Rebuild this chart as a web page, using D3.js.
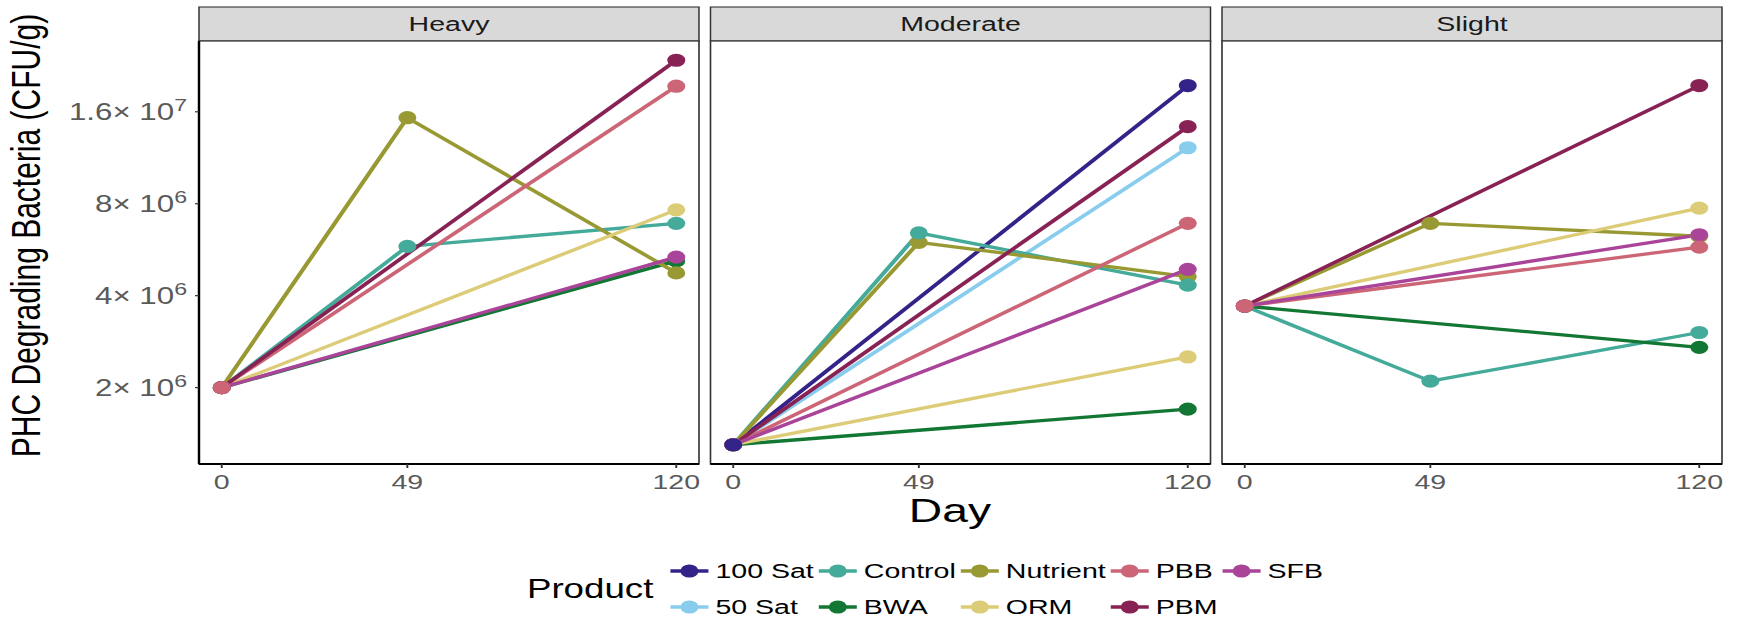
<!DOCTYPE html>
<html>
<head>
<meta charset="utf-8">
<script src="https://cdn.jsdelivr.net/npm/d3@7"></script>
<style>
  html, body { margin: 0; padding: 0; background: #fff; }
  svg { display: block; }
</style>
</head>
<body>
<svg id="chart"></svg>
<script>
// ---- data -------------------------------------------------------------
const days = [0, 49, 120];
const facets = ["Heavy", "Moderate", "Slight"];
const products = ["100 Sat", "50 Sat", "Control", "BWA", "Nutrient", "ORM", "PBB", "PBM", "SFB"];
const productColors = ["#332288", "#88CCEE", "#44AA99", "#117733", "#999933", "#DDCC77", "#CC6677", "#882255", "#AA4499"];
// order in which the points are stacked (last one on top)
const pointOrder = ["50 Sat", "BWA", "Nutrient", "Control", "ORM", "PBM", "SFB", "PBB", "100 Sat"];

// CFU/g per product (same order as `products`), values at day 0 / 49 / 120
const heavyCounts = [
  null,
  null,
  [2.0e6, 5.8e6, 6.9e6],
  [2.0e6, null, 5.2e6],
  [2.0e6, 15.3e6, 4.75e6],
  [2.0e6, null, 7.64e6],
  [2.0e6, null, 19.4e6],
  [2.0e6, null, 23.6e6],
  [2.0e6, null, 5.35e6]
];
const moderateCounts = [
  [1.3e6, null, 19.5e6],
  [1.3e6, null, 12.2e6],
  [1.3e6, 6.42e6, 4.33e6],
  [1.3e6, null, 1.7e6],
  [1.3e6, 5.98e6, 4.62e6],
  [1.3e6, null, 2.52e6],
  [1.3e6, null, 6.9e6],
  [1.3e6, null, 14.3e6],
  [1.3e6, null, 4.88e6]
];
const slightCounts = [
  null,
  null,
  [3.7e6, 2.1e6, 3.03e6],
  [3.7e6, null, 2.71e6],
  [3.7e6, 6.9e6, 6.26e6],
  [3.7e6, null, 7.74e6],
  [3.7e6, null, 5.77e6],
  [3.7e6, null, 19.5e6],
  [3.7e6, null, 6.33e6]
];
const facetCounts = [heavyCounts, moderateCounts, slightCounts];

const yTickValues = [2e6, 4e6, 8e6, 1.6e7];
const yTickMantissas = ["2", "4", "8", "1.6"];
const yTickExponents = ["6", "6", "6", "7"];

// ---- layout -----------------------------------------------------------
const W = 1738, H = 619;
const stretch = 1.36;                 // horizontal aspect of the figure
const VW = W / stretch;
const sx = v => v / stretch;          // screen x -> drawing x

const font = "'Liberation Sans', Arial, Helvetica, sans-serif";
const stripTop = 7, panelTop = 41, panelBottom = 464;
const panelW = sx(500);
const panelLefts = facets.map((f, i) => sx(199 + i * 511.5));

const svg = d3.select("#chart")
  .attr("width", W).attr("height", H)
  .attr("viewBox", `0 0 ${VW} ${H}`)
  .attr("preserveAspectRatio", "none")
  .style("font-family", font);

svg.append("rect").attr("width", VW).attr("height", H).attr("fill", "#fff");

// log y scale shared by all panels, 5% expansion in log space
const allValues = facetCounts.flat(2).filter(v => v != null);
const [vMin, vMax] = d3.extent(allValues);
const lMin = Math.log10(vMin), lMax = Math.log10(vMax);
const lPad = (lMax - lMin) * 0.05;
const y = d3.scaleLog()
  .domain([10 ** (lMin - lPad), 10 ** (lMax + lPad)])
  .range([panelBottom, panelTop]);

const tickGrey = "#5a5a5a";
const tickFs = 21;

facets.forEach((facet, fi) => {
  const left = panelLefts[fi];
  const x = d3.scaleLinear().domain([-6, 126]).range([left, left + panelW]);
  const g = svg.append("g").attr("class", "panel");

  // strip
  g.append("rect")
    .attr("x", left).attr("y", stripTop)
    .attr("width", panelW).attr("height", panelTop - stripTop)
    .attr("fill", "#D9D9D9").attr("stroke", "#333").attr("stroke-width", 1.1);
  g.append("text")
    .attr("x", left + panelW / 2).attr("y", (stripTop + panelTop) / 2 + 7.5)
    .attr("text-anchor", "middle")
    .attr("font-size", tickFs).attr("fill", "#1A1A1A")
    .text(facet);

  // panel background + border
  g.append("rect")
    .attr("x", left).attr("y", panelTop)
    .attr("width", panelW).attr("height", panelBottom - panelTop)
    .attr("fill", "#fff").attr("stroke", "#333").attr("stroke-width", 1.2);

  // x axis line
  g.append("line")
    .attr("x1", left).attr("x2", left + panelW)
    .attr("y1", panelBottom).attr("y2", panelBottom)
    .attr("stroke", "#000").attr("stroke-width", 1.8);

  // x ticks and labels
  days.forEach(d => {
    g.append("line")
      .attr("x1", x(d)).attr("x2", x(d))
      .attr("y1", panelBottom).attr("y2", panelBottom + 4)
      .attr("stroke", "#333").attr("stroke-width", 1.4);
    g.append("text")
      .attr("x", x(d)).attr("y", panelBottom + 25)
      .attr("text-anchor", "middle")
      .attr("font-size", tickFs).attr("fill", tickGrey)
      .text(d);
  });

  // y axis only on the first panel
  if (fi === 0) {
    g.append("line")
      .attr("x1", left).attr("x2", left)
      .attr("y1", panelTop).attr("y2", panelBottom)
      .attr("stroke", "#000").attr("stroke-width", 1.8);
    yTickValues.forEach((v, ti) => {
      g.append("line")
        .attr("x1", left - sx(4)).attr("x2", left)
        .attr("y1", y(v)).attr("y2", y(v))
        .attr("stroke", "#333").attr("stroke-width", 1.2);
      const t = g.append("text")
        .attr("x", left - sx(12)).attr("y", y(v) + 8)
        .attr("text-anchor", "end")
        .attr("font-size", 23).attr("fill", tickGrey);
      t.append("tspan").text(yTickMantissas[ti] + "\u00d7 10");
      t.append("tspan").attr("font-size", 17).attr("dy", -9).text(yTickExponents[ti]);
    });
  }

  // series lines (drawn in product order)
  const line = d3.line().x(p => x(p.day)).y(p => y(p.value));
  const counts = facetCounts[fi];
  const series = products.map((p, pi) => ({
    product: p,
    color: productColors[pi],
    points: counts[pi] ? days.map((d, di) => ({ day: d, value: counts[pi][di] })).filter(q => q.value != null) : []
  })).filter(s => s.points.length);

  g.selectAll("path.series").data(series).join("path")
    .attr("class", "series")
    .attr("d", s => line(s.points))
    .attr("fill", "none")
    .attr("stroke", s => s.color)
    .attr("stroke-width", 3.3)
    .attr("stroke-linejoin", "round");

  // points on top of all lines
  const stacked = series.slice().sort((a, b) => pointOrder.indexOf(a.product) - pointOrder.indexOf(b.product));
  stacked.forEach(s => {
    g.selectAll(null).data(s.points).join("circle")
      .attr("cx", p => x(p.day)).attr("cy", p => y(p.value))
      .attr("r", 6.6).attr("fill", s.color);
  });
});

// axis titles
svg.append("text")
  .attr("transform", `translate(${sx(40)},${(stripTop + panelBottom) / 2}) rotate(-90)`)
  .attr("text-anchor", "middle")
  .attr("font-size", 30).attr("fill", "#000")
  .text("PHC Degrading Bacteria (CFU/g)");

svg.append("text")
  .attr("x", sx(950))
  .attr("y", 522)
  .attr("text-anchor", "middle")
  .attr("font-size", 34).attr("fill", "#000")
  .text("Day");

// legend: two rows, filled column by column
const legend = svg.append("g").attr("class", "legend");
const legendTitle = legend.append("text")
  .attr("x", 0).attr("y", 598)
  .attr("font-size", 27).attr("fill", "#000")
  .text("Product");
const titleW = legendTitle.node().getComputedTextLength();
const rowsY = [571, 607];
const keyW = sx(38), keyGap = sx(7), colGap = sx(5);
const labelFs = 21;
let cx = titleW + sx(17);
const nCols = Math.ceil(products.length / 2);
for (let c = 0; c < nCols; c++) {
  const members = [c * 2, c * 2 + 1].filter(i => i < products.length);
  let maxW = 0;
  members.forEach((pi, r) => {
    const yy = rowsY[r];
    legend.append("line")
      .attr("x1", cx).attr("x2", cx + keyW)
      .attr("y1", yy).attr("y2", yy)
      .attr("stroke", productColors[pi]).attr("stroke-width", 3.6);
    legend.append("circle")
      .attr("cx", cx + keyW / 2).attr("cy", yy).attr("r", 6.6)
      .attr("fill", productColors[pi]);
    const t = legend.append("text")
      .attr("x", cx + keyW + keyGap).attr("y", yy + 7.5)
      .attr("font-size", labelFs).attr("fill", "#000")
      .text(products[pi]);
    maxW = Math.max(maxW, t.node().getComputedTextLength());
  });
  cx += keyW + keyGap + maxW + colGap;
}
const legendW = cx - colGap;
legend.attr("transform", `translate(${sx(925) - legendW / 2},0)`);
</script>
</body>
</html>
